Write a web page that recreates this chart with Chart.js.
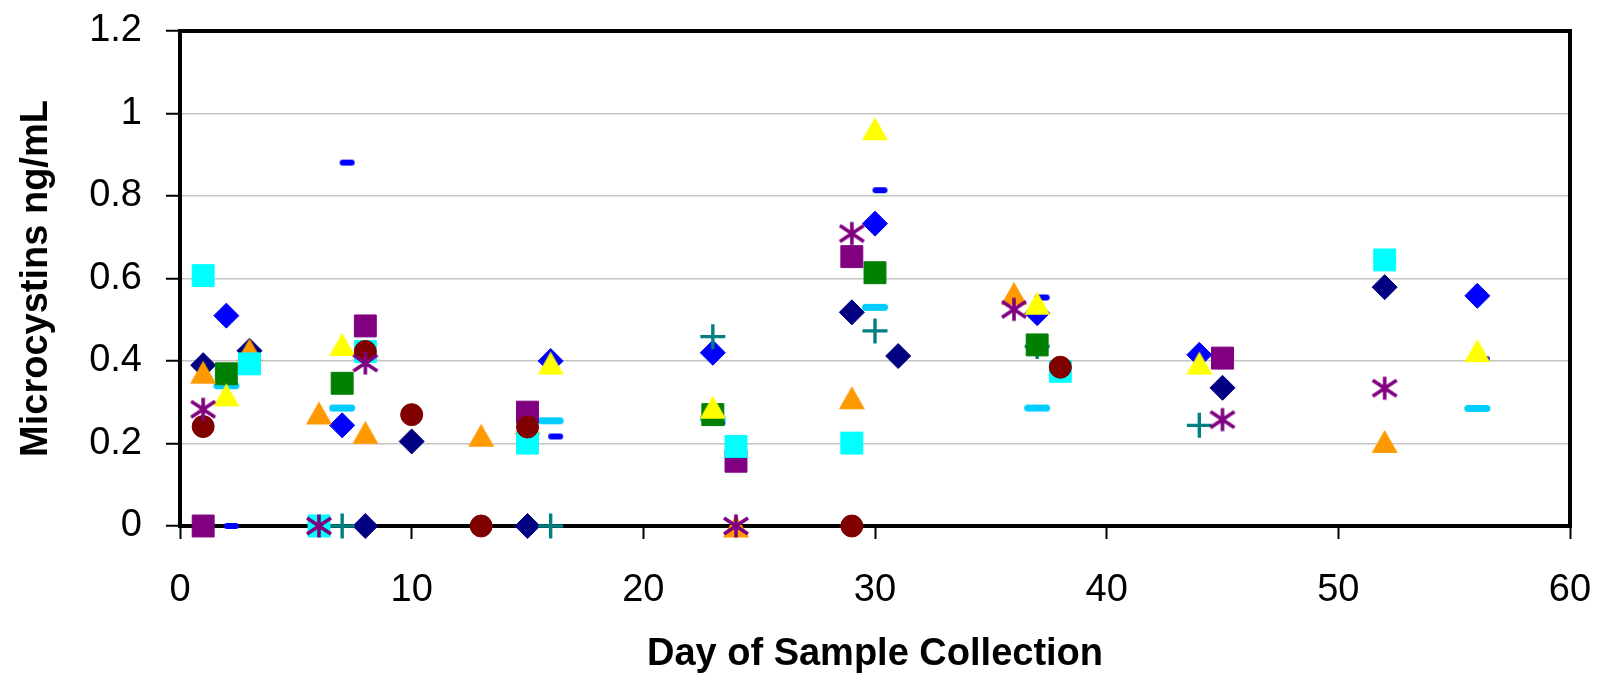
<!DOCTYPE html>
<html><head><meta charset="utf-8">
<script src="https://cdn.jsdelivr.net/npm/chart.js@4.4.1/dist/chart.umd.min.js"></script>
<style>html,body{margin:0;padding:0;background:#fff;overflow:hidden}canvas{display:block}</style>
</head><body>
<canvas id="c" width="1600" height="677"></canvas>
<script>
// ---- tick labels ----
const xTickValues = [0, 10, 20, 30, 40, 50, 60];
const xTickLabels = ['0', '10', '20', '30', '40', '50', '60'];
const yTickValues = [0, 0.2, 0.4, 0.6, 0.8, 1, 1.2];
const yTickLabels = ['0', '0.2', '0.4', '0.6', '0.8', '1', '1.2'];

// ---- series (day, value) ----
const navyDiamondDays   = [1, 3, 8, 10, 15, 29, 31, 45, 52];
const navyDiamondValues = [0.39, 0.425, 0, 0.205, 0, 0.518, 0.412, 0.335, 0.579];

const blueDiamondDays   = [2, 7, 16, 23, 30, 37, 44, 56];
const blueDiamondValues = [0.51, 0.244, 0.40, 0.42, 0.733, 0.516, 0.415, 0.558];

const blueDashDays   = [2, 7, 16, 23, 30, 37, 56];
const blueDashValues = [0, 0.881, 0.217, 0.25, 0.814, 0.554, 0.405];

const lightBlueDashDays   = [2, 7, 16, 23, 30, 37, 56];
const lightBlueDashValues = [0.34, 0.286, 0.255, 0.26, 0.53, 0.286, 0.285];

const tealPlusDays   = [7, 16, 23, 30, 37, 44];
const tealPlusValues = [0, 0, 0.459, 0.473, 0.435, 0.244];

const greenSquareDays   = [2, 7, 23, 30, 37];
const greenSquareValues = [0.369, 0.346, 0.27, 0.614, 0.439];

const orangeTriangleDays   = [1, 3, 6, 8, 13, 15, 24, 29, 36, 52];
const orangeTriangleValues = [0.373, 0.427, 0.274, 0.227, 0.22, 0.25, 0, 0.311, 0.564, 0.205];

const purpleSquareDays   = [1, 8, 15, 24, 29, 45];
const purpleSquareValues = [0, 0.485, 0.276, 0.157, 0.653, 0.407];

const cyanSquareDays   = [1, 3, 6, 8, 15, 24, 29, 38, 52];
const cyanSquareValues = [0.607, 0.393, 0, 0.423, 0.201, 0.193, 0.201, 0.375, 0.645];

const yellowTriangleDays   = [2, 7, 16, 23, 30, 37, 44, 56];
const yellowTriangleValues = [0.318, 0.44, 0.395, 0.288, 0.963, 0.54, 0.395, 0.425];

const darkRedCircleDays   = [1, 8, 10, 13, 15, 29, 38];
const darkRedCircleValues = [0.241, 0.423, 0.27, 0, 0.24, 0, 0.385];

const purpleStarDays   = [1, 6, 8, 24, 29, 36, 45, 52];
const purpleStarValues = [0.283, 0, 0.395, 0, 0.709, 0.525, 0.258, 0.334];

// ---- marker images ----
function triangleMarker(color) {
  const c = document.createElement('canvas'); c.width = 28; c.height = 25;
  const g = c.getContext('2d'); g.fillStyle = color;
  g.beginPath(); g.moveTo(14, 1); g.lineTo(27, 24); g.lineTo(1, 24); g.closePath(); g.fill();
  return c;
}
function asteriskMarker(color) {
  const c = document.createElement('canvas'); c.width = 28; c.height = 26;
  const g = c.getContext('2d'); g.strokeStyle = color; g.lineWidth = 3.6;
  g.beginPath();
  g.moveTo(14, 1.5); g.lineTo(14, 24.5);
  g.moveTo(2, 5); g.lineTo(26, 21);
  g.moveTo(26, 5); g.lineTo(2, 21);
  g.stroke();
  return c;
}
function dashMarker(color, w, h, shift) {
  const c = document.createElement('canvas'); c.width = 2 * (w / 2 + Math.abs(shift)) + 4; c.height = h + 2;
  const g = c.getContext('2d'); g.fillStyle = color;
  const cx = c.width / 2 + shift;
  g.beginPath();
  if (g.roundRect) g.roundRect(cx - w / 2, 1, w, h, h / 2); else g.rect(cx - w / 2, 1, w, h);
  g.fill();
  return c;
}

function pts(days, values) { return days.map((d, i) => ({ x: d, y: values[i] })); }

// bottom-to-top drawing order
const seriesList = [
  { label: 'Navy diamond', days: navyDiamondDays, values: navyDiamondValues, style: 'rectRot', r: 12.5, color: '#000080' },
  { label: 'Blue diamond', days: blueDiamondDays, values: blueDiamondValues, style: 'rectRot', r: 12.5, color: '#0000FF' },
  { label: 'Blue dash', days: blueDashDays, values: blueDashValues, style: dashMarker('#0000FF', 15, 6, 5), r: 8, color: '#0000FF' },
  { label: 'Light blue dash', days: lightBlueDashDays, values: lightBlueDashValues, style: dashMarker('#00CCFF', 26, 7, 0), r: 8, color: '#00CCFF' },
  { label: 'Teal plus', days: tealPlusDays, values: tealPlusValues, style: 'cross', r: 12.5, color: '#008080', bw: 3.4 },
  { label: 'Green square', days: greenSquareDays, values: greenSquareValues, style: 'rect', r: 15.5, color: '#008000' },
  { label: 'Orange triangle', days: orangeTriangleDays, values: orangeTriangleValues, style: triangleMarker('#FF9900'), r: 10, color: '#FF9900' },
  { label: 'Purple square', days: purpleSquareDays, values: purpleSquareValues, style: 'rect', r: 15.5, color: '#800080' },
  { label: 'Cyan square', days: cyanSquareDays, values: cyanSquareValues, style: 'rect', r: 15.5, color: '#00FFFF' },
  { label: 'Yellow triangle', days: yellowTriangleDays, values: yellowTriangleValues, style: triangleMarker('#FFFF00'), r: 10, color: '#FFFF00' },
  { label: 'Dark red circle', days: darkRedCircleDays, values: darkRedCircleValues, style: 'circle', r: 11, color: '#800000' },
  { label: 'Purple asterisk', days: purpleStarDays, values: purpleStarValues, style: asteriskMarker('#800080'), r: 10, color: '#800080' }
];

const N = seriesList.length;
const datasets = seriesList.map((s, i) => ({
  label: s.label,
  data: pts(s.days, s.values),
  pointStyle: s.style,
  pointRadius: s.r,
  pointHoverRadius: s.r,
  pointBackgroundColor: s.color,
  pointBorderColor: s.color,
  pointBorderWidth: s.bw || 1,
  showLine: false,
  clip: false,
  order: N - i
}));

const frame = {
  id: 'frame',
  beforeDatasetsDraw(chart) {
    const a = chart.chartArea, ctx = chart.ctx;
    ctx.save();
    ctx.strokeStyle = '#000'; ctx.lineWidth = 4;
    ctx.strokeRect(a.left, a.top, a.right - a.left, a.bottom - a.top);
    ctx.restore();
  }
};

Chart.defaults.font.family = '"Liberation Sans", Arial, sans-serif';
Chart.defaults.color = '#000';

new Chart(document.getElementById('c'), {
  type: 'scatter',
  data: { datasets },
  plugins: [frame],
  options: {
    responsive: false,
    devicePixelRatio: 1,
    animation: false,
    events: [],
    layout: { padding: { top: 31, right: 30, left: 0, bottom: 0 } },
    plugins: { legend: { display: false }, tooltip: { enabled: false } },
    scales: {
      x: {
        type: 'linear', min: 0, max: 60,
        afterBuildTicks: s => { s.ticks = xTickValues.map(v => ({ value: v })); },
        afterFit: s => { s.height = 151; s.paddingLeft = 0; s.paddingRight = 0; },
        border: { display: false },
        grid: { drawOnChartArea: false, drawTicks: true, tickLength: 13, tickColor: '#000', tickWidth: 2 },
        ticks: {
          font: { size: 38 }, padding: 29, maxRotation: 0,
          callback: (v) => xTickLabels[xTickValues.indexOf(v)]
        },
        title: { display: true, text: 'Day of Sample Collection', font: { size: 38, weight: 'bold' }, padding: { top: 0, bottom: 0 } }
      },
      y: {
        type: 'linear', min: 0, max: 1.2,
        afterBuildTicks: s => { s.ticks = yTickValues.map(v => ({ value: v })); },
        afterFit: s => { s.width = 180; s.paddingTop = 0; s.paddingBottom = 0; },
        border: { display: false },
        grid: { color: '#c4c4c4', lineWidth: 1.5, drawTicks: true, tickLength: 14, tickColor: '#000', tickWidth: 2 },
        ticks: {
          font: { size: 38 }, padding: 24,
          callback: (v) => yTickLabels[yTickValues.findIndex(t => Math.abs(t - v) < 1e-9)]
        },
        title: { display: true, text: 'Microcystins ng/mL', font: { size: 38, weight: 'bold' }, padding: { top: 14, bottom: 0 } }
      }
    }
  }
});
</script>
</body></html>
